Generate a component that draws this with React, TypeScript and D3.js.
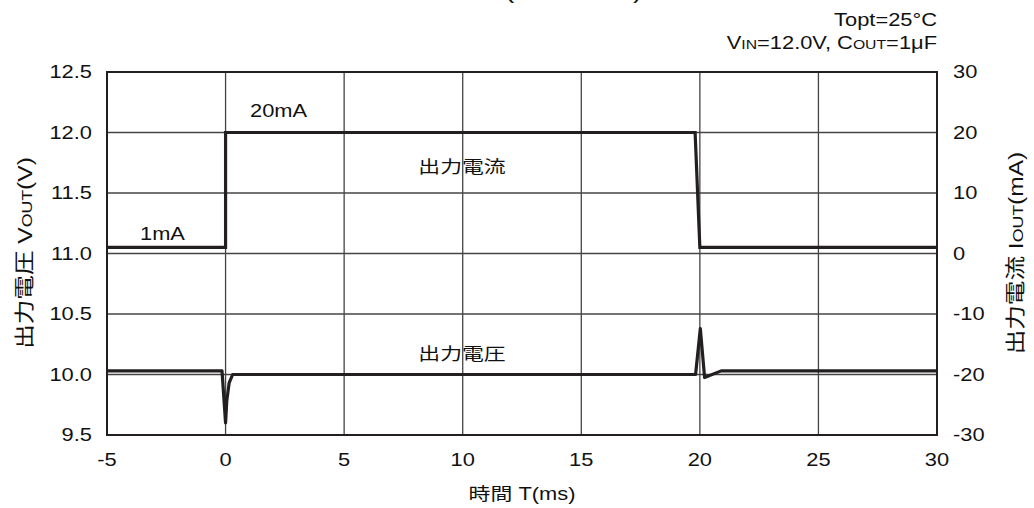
import React from "react";
import * as d3 from "d3";

const xTicks = [-5, 0, 5, 10, 15, 20, 25, 30];
const vTicks = [9.5, 10.0, 10.5, 11.0, 11.5, 12.0, 12.5];
const iTicks = [-30, -20, -10, 0, 10, 20, 30];

const currentT = [-5, 0, 0, 19.8, 20.0, 30];
const currentI = [1, 1, 20, 20, 1, 1];

const voltageT = [-5, -0.15, 0, 0.05, 0.15, 0.3, 19.82, 20.02, 20.2, 20.9, 30];
const voltageV = [10.03, 10.03, 9.6, 9.78, 9.93, 10.0, 10.0, 10.38, 9.975, 10.03, 10.03];

const W = 1034, H = 508;
const L = 107, R = 937, TOP = 72, BOT = 435;
const SX = 1.25;
const FS = 17.5;
const FONT = "'Liberation Sans', Arial, 'Noto Sans CJK JP', sans-serif";
const INK = "#231f20";

function T({ x, y, anchor = "start", size = FS, children }: any) {
  return (
    <g transform={`translate(${x},${y}) scale(${SX},1)`}>
      <text textAnchor={anchor} fontSize={size} fontFamily={FONT} fill="#111">
        {children}
      </text>
    </g>
  );
}

export default function App() {
  const x = d3.scaleLinear().domain([-5, 30]).range([L, R]);
  const yV = d3.scaleLinear().domain([9.5, 12.5]).range([BOT, TOP]);
  const yI = d3.scaleLinear().domain([-30, 30]).range([BOT, TOP]);

  const cur = d3.line<number>().x((d) => x(currentT[d])).y((d) => yI(currentI[d]));
  const vol = d3.line<number>().x((d) => x(voltageT[d])).y((d) => yV(voltageV[d]));

  const small = FS * 0.72;
  const VFS = 20.5;

  return (
    <svg width={W} height={H} style={{ position: "absolute", left: 0, top: 0, background: "#fff" }}>
      <rect width={W} height={H} fill="#fff" />
      {/* cut-off title fragments */}
      <T x={505} y={-2} size={22}>(</T>
      <T x={633} y={-2} size={22}>)</T>

      {/* grid */}
      {xTicks.slice(1, -1).map((t) => (
        <line key={"gx" + t} x1={x(t)} x2={x(t)} y1={TOP} y2={BOT} stroke="#444" strokeWidth={1.3} />
      ))}
      {vTicks.slice(1, -1).map((t) => (
        <line key={"gy" + t} x1={L} x2={R} y1={yV(t)} y2={yV(t)} stroke="#444" strokeWidth={1.3} />
      ))}
      <rect x={L} y={TOP} width={R - L} height={BOT - TOP} fill="none" stroke={INK} strokeWidth={2} />

      {/* series */}
      <path d={cur(d3.range(currentT.length)) || ""} fill="none" stroke={INK} strokeWidth={3.2} strokeLinejoin="miter" />
      <path d={vol(d3.range(voltageT.length)) || ""} fill="none" stroke={INK} strokeWidth={3.2} strokeLinejoin="round" />

      {/* ticks */}
      {vTicks.map((t) => (
        <T key={"vl" + t} x={92} y={yV(t) + 6} anchor="end">{t.toFixed(1)}</T>
      ))}
      {iTicks.map((t) => (
        <T key={"il" + t} x={953} y={yI(t) + 6} anchor="start">{String(t)}</T>
      ))}
      {xTicks.map((t) => (
        <T key={"xl" + t} x={x(t)} y={466} anchor="middle">{String(t)}</T>
      ))}

      {/* axis titles */}
      <T x={522} y={500} anchor="middle">時間 T(ms)</T>
      <g transform={`translate(32,253) rotate(-90) scale(1.2,1)`}>
        <text textAnchor="middle" fontSize={VFS} fontFamily={FONT} fill="#111">
          出力電圧 V<tspan fontSize={VFS * 0.72}>OUT</tspan>(V)
        </text>
      </g>
      <g transform={`translate(1023,253) rotate(-90) scale(1.2,1)`}>
        <text textAnchor="middle" fontSize={VFS} fontFamily={FONT} fill="#111">
          出力電流 I<tspan fontSize={VFS * 0.72}>OUT</tspan>(mA)
        </text>
      </g>

      {/* conditions */}
      <T x={937} y={26} anchor="end">Topt=25°C</T>
      <g transform={`translate(937,49) scale(${SX},1)`}>
        <text textAnchor="end" fontSize={FS} fontFamily={FONT} fill="#111">
          V<tspan fontSize={small}>IN</tspan>=12.0V, C<tspan fontSize={small}>OUT</tspan>=1μF
        </text>
      </g>

      {/* annotations */}
      <T x={250} y={117}>20mA</T>
      <T x={140} y={240}>1mA</T>
      <T x={462} y={173} anchor="middle">出力電流</T>
      <T x={462} y={360} anchor="middle">出力電圧</T>
    </svg>
  );
}
